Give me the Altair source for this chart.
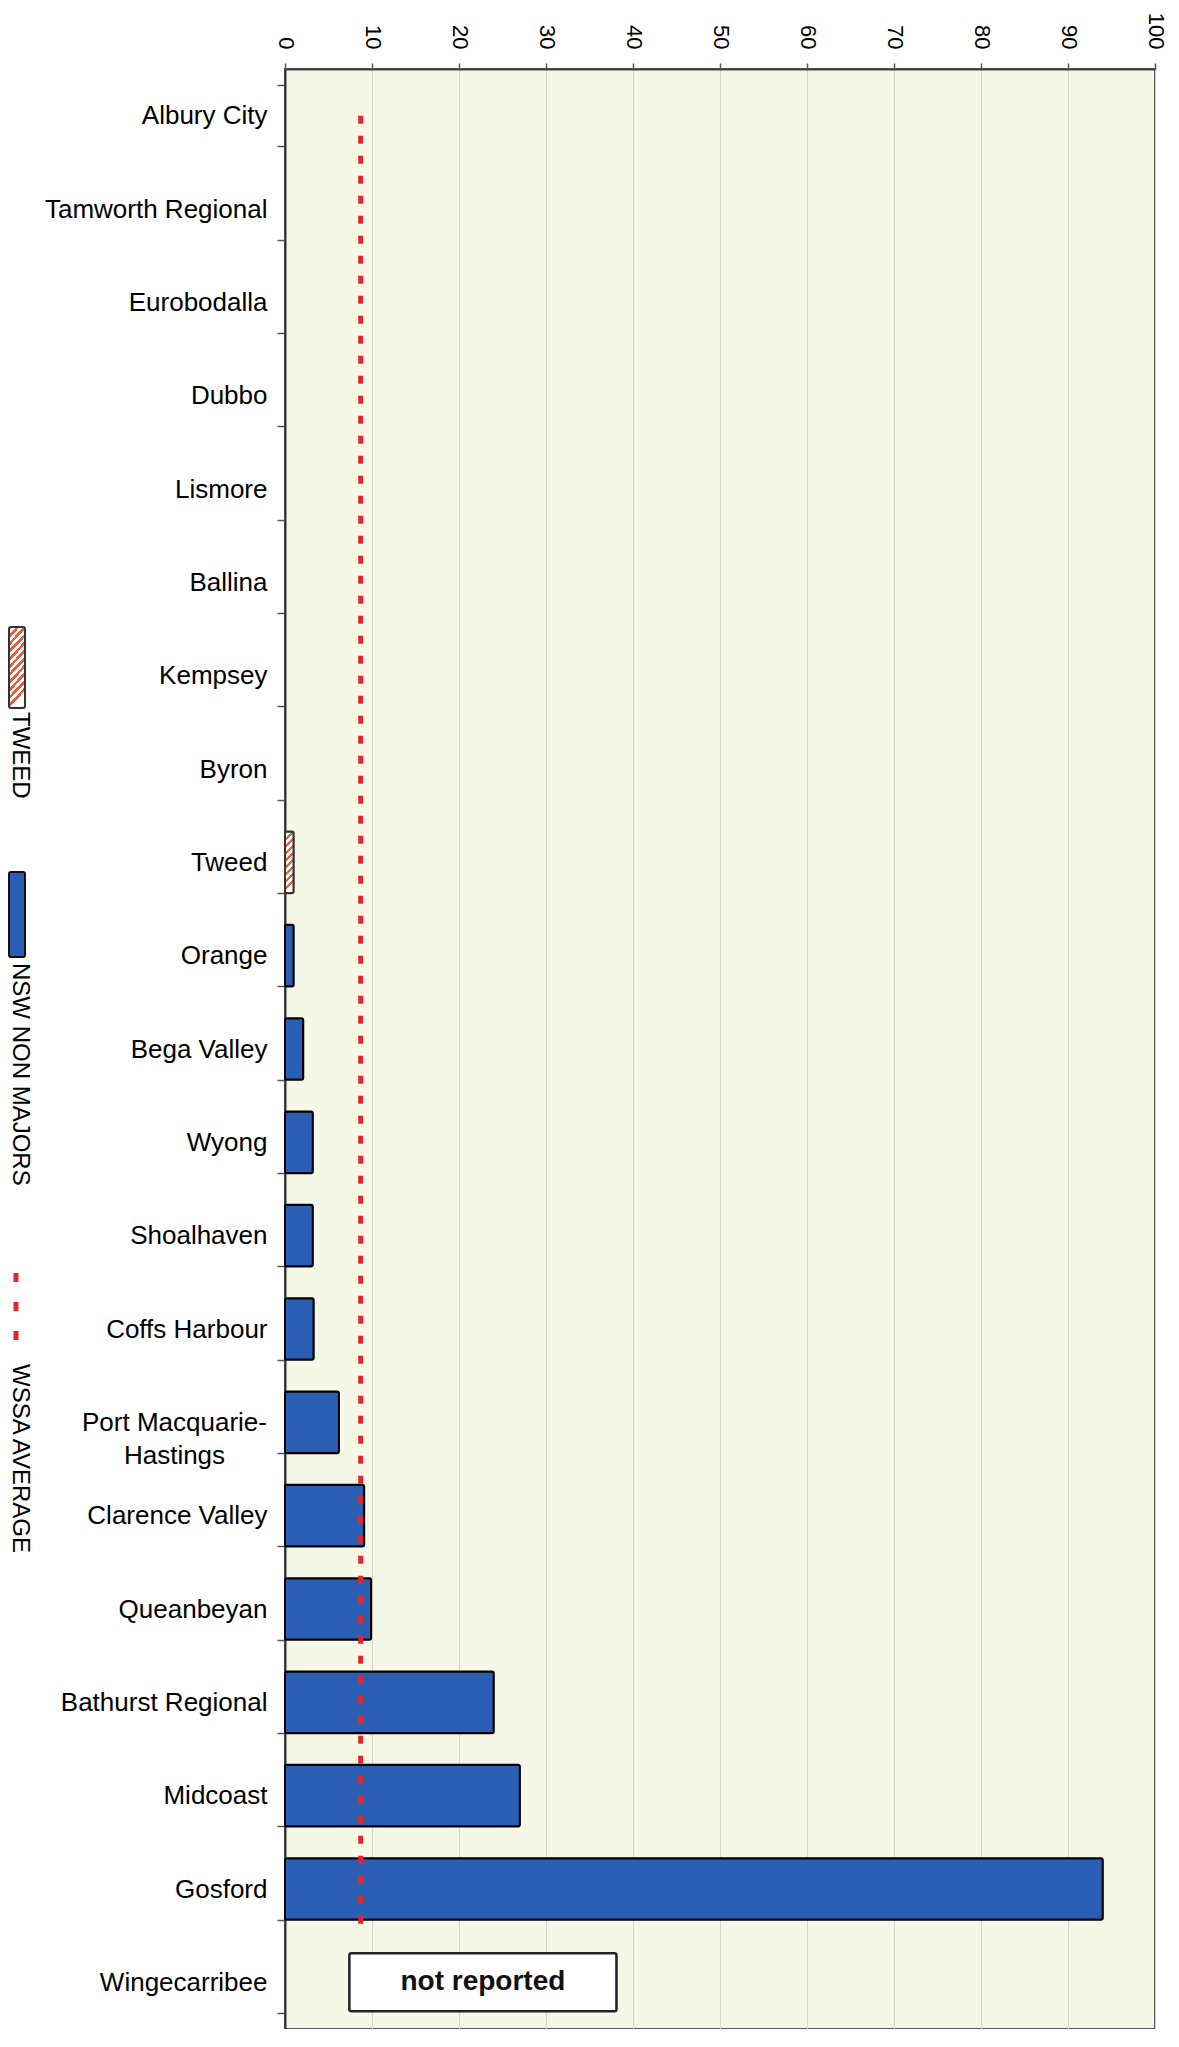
import altair as alt
import pandas as pd

councils = ["Albury City", "Tamworth Regional", "Eurobodalla", "Dubbo", "Lismore",
            "Ballina", "Kempsey", "Byron", "Tweed", "Orange", "Bega Valley", "Wyong",
            "Shoalhaven", "Coffs Harbour", "Port Macquarie-Hastings", "Clarence Valley",
            "Queanbeyan", "Bathurst Regional", "Midcoast", "Gosford", "Wingecarribee"]
values = [0, 0, 0, 0, 0, 0, 0, 0, 1.0, 1.0, 2.1, 3.2, 3.2, 3.3, 6.2, 9.1, 9.9,
          24.0, 27.0, 94.0, None]
groups = ["NSW NON MAJORS"] * 8 + ["TWEED"] + ["NSW NON MAJORS"] * 12
wssa_average = 8.7
not_reported_council = "Wingecarribee"
not_reported_span = [7.4, 38.1]
x_ticks = list(range(0, 101, 10))
legend_names = ["TWEED", "NSW NON MAJORS", "WSSA AVERAGE"]

FONT = "Liberation Sans"
W, H = 870, 1960
N = len(councils)
STEP = H / N

BLUE = "#2b5fb5"
HATCH_RED = "#e2603f"
RED = "#e3262b"


def hatch(n, vx, vy):
    stops = []
    for k in range(n):
        a, b, c = k / n, (k + 0.5) / n, (k + 1) / n
        stops += [alt.GradientStop(color=HATCH_RED, offset=a),
                  alt.GradientStop(color=HATCH_RED, offset=b),
                  alt.GradientStop(color="white", offset=b),
                  alt.GradientStop(color="white", offset=c)]
    return alt.LinearGradient(gradient="linear", stops=stops, x1=0, y1=0, x2=vx, y2=vy)


df = pd.DataFrame({"council": councils, "value": values, "group": groups})

PMH = "Port Macquarie-Hastings"
yenc = alt.Y("council:N", sort=councils,
             scale=alt.Scale(domain=councils, paddingInner=0.34, paddingOuter=0.17),
             axis=alt.Axis(title=None, orient="left", labelFont=FONT, labelFontSize=26,
                           labelColor="black", labelLimit=400,
                           labelPadding={"condition": {"test": f"datum.value == '{PMH}'", "value": 103},
                                         "value": 10},
                           labelAlign={"condition": {"test": f"datum.value == '{PMH}'", "value": "center"},
                                       "value": "right"},
                           tickSize=8, tickColor="#555", tickWidth=1.5, tickBand="extent",
                           domainColor="#333", domainWidth=2, grid=False,
                           labelLineHeight=33,
                           labelExpr=f"datum.label == '{PMH}' ? ['Port Macquarie-', 'Hastings'] : datum.label"))

xscale = alt.Scale(domain=[0, 100], nice=False, zero=True)
xaxis = alt.Axis(title=None, orient="top", values=x_ticks, labelAngle=90,
                 labelAlign="right", labelBaseline="middle", labelFont=FONT,
                 labelFontSize=22, labelColor="black", labelPadding=14,
                 tickSize=6, tickColor="#555", tickWidth=1.5,
                 domainColor="#444", domainWidth=2,
                 grid=True, gridColor="#d4d6c8", gridWidth=1)

bars = alt.Chart(df).transform_filter(
    "datum.value > 0 && datum.group == 'NSW NON MAJORS'"
).mark_bar(fill=BLUE, stroke="black", strokeWidth=2, cornerRadius=2).encode(
    x=alt.X("value:Q", scale=xscale, axis=xaxis),
    y=yenc,
)

tweed_bar = alt.Chart(df).transform_filter(
    "datum.value > 0 && datum.group == 'TWEED'"
).mark_bar(fill=hatch(9, 0.145, 1), stroke="#333", strokeWidth=2, cornerRadius=2).encode(
    x=alt.X("value:Q", scale=xscale),
    y=alt.Y("council:N", sort=councils),
)

avg = alt.Chart(pd.DataFrame({"avg": [wssa_average]})).mark_rule(
    color=RED, strokeWidth=5, strokeDash=[8, 12]
).encode(
    x=alt.X("avg:Q", scale=xscale),
    y=alt.value(STEP * 0.5),
    y2=alt.value(STEP * (N - 1)),
)

nr_df = pd.DataFrame({"council": [not_reported_council],
                      "x0": [not_reported_span[0]], "x1": [not_reported_span[1]],
                      "xm": [(not_reported_span[0] + not_reported_span[1]) / 2],
                      "label": ["not reported"]})
nr_box = alt.Chart(nr_df).mark_bar(size=58, fill="white", stroke="#222", strokeWidth=2.5,
                                   cornerRadius=2).encode(
    x=alt.X("x0:Q", scale=xscale), x2="x1:Q", y=alt.Y("council:N", sort=councils))
nr_text = alt.Chart(nr_df).mark_text(font=FONT, fontSize=28, fontWeight="bold",
                                     color="#111", baseline="middle").encode(
    x=alt.X("xm:Q", scale=xscale), y=alt.Y("council:N", sort=councils), text="label:N")

# legend (rotated, on the far left)
one = alt.Data(values=[{}])
LX = -269
leg_tweed = alt.Chart(one).mark_rect(fill=hatch(11, 0.21, 1), stroke="#333", strokeWidth=2,
                                     cornerRadius=2).encode(
    x=alt.value(-276), x2=alt.value(-260), y=alt.value(558), y2=alt.value(639))
leg_nsw = alt.Chart(one).mark_rect(fill=BLUE, stroke="#111", strokeWidth=2,
                                   cornerRadius=2).encode(
    x=alt.value(-276), x2=alt.value(-260), y=alt.value(803), y2=alt.value(888))
leg_avg = alt.Chart(one).mark_rule(color=RED, strokeWidth=5, strokeDash=[9, 20]).encode(
    x=alt.value(LX), y=alt.value(1204), y2=alt.value(1273))
leg_text = alt.Chart(pd.DataFrame({"name": legend_names, "pos": [643, 894, 1295]})).mark_text(
    font=FONT, fontSize=24, angle=90, align="left", baseline="alphabetic", color="black"
).encode(x=alt.value(-272), y=alt.Y("pos:Q", scale=None), text="name:N")

chart = alt.layer(
    bars, tweed_bar, avg, nr_box, nr_text, leg_tweed, leg_nsw, leg_avg, leg_text
).properties(
    width=W, height=H,
    autosize=alt.AutoSizeParams(type="none"),
    padding={"left": 277, "top": 61, "right": 16, "bottom": 0},
    background="white",
).configure_view(
    fill="#f6f8e7", stroke="#555", strokeWidth=2
)

chart.save("out.html", embed_options={"renderer": "svg", "actions": False})
